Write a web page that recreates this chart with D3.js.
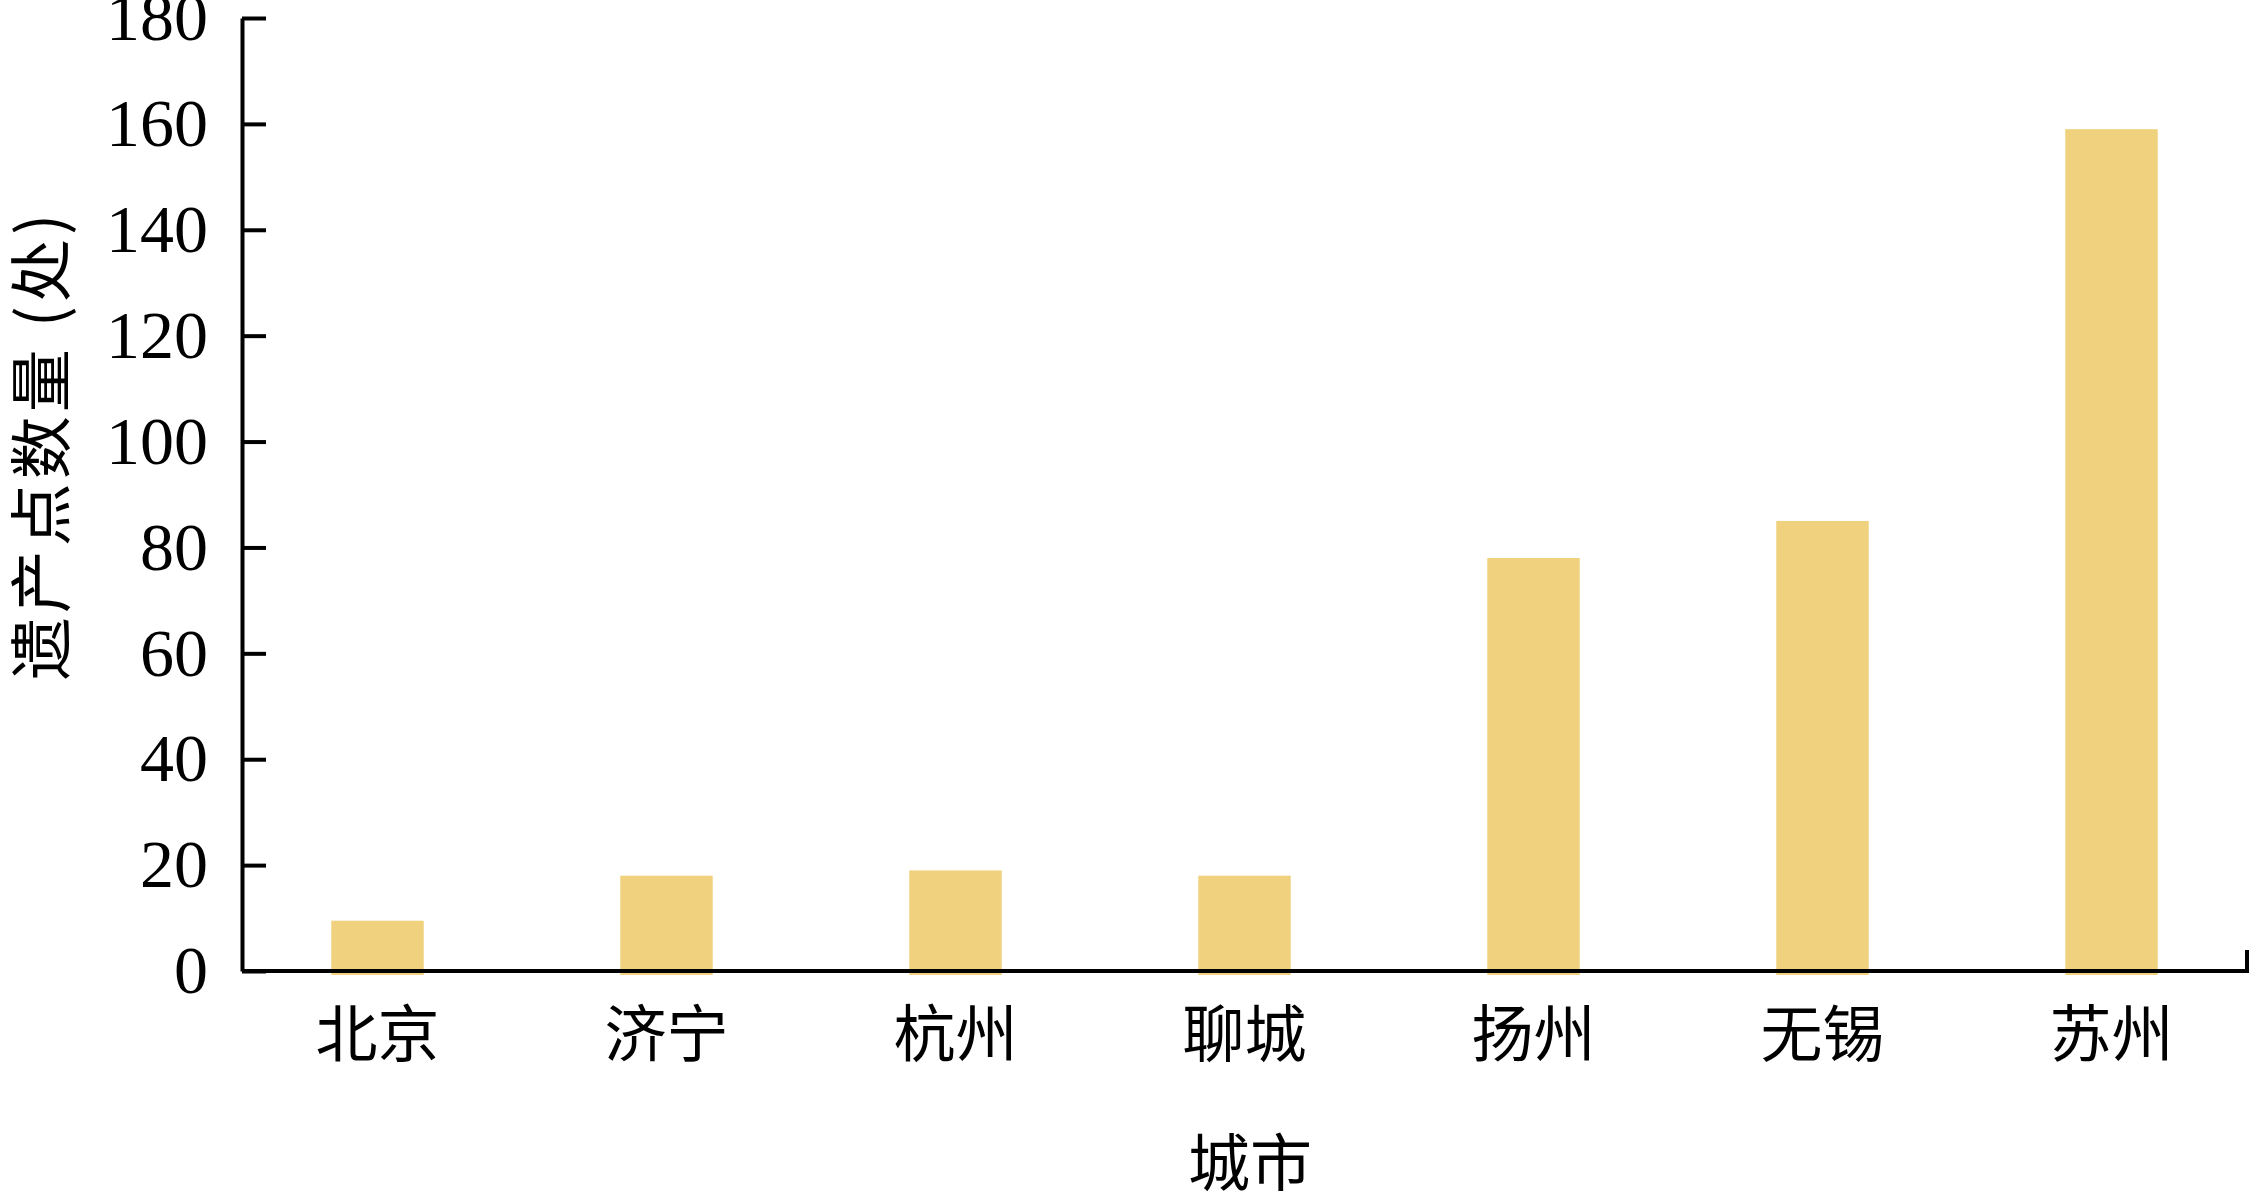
<!DOCTYPE html>
<html>
<head>
<meta charset="utf-8">
<script src="https://cdn.jsdelivr.net/npm/d3@7"></script>
<style>
  body { margin: 0; background: #fff; }
  svg { display: block; }
</style>
</head>
<body>
<div id="chart"></div>
<script>
// data
var cities = ["北京", "济宁", "杭州", "聊城", "扬州", "无锡", "苏州"];
var counts = [9.5, 18, 19, 18, 78, 85, 159];
var yTicks = [0, 20, 40, 60, 80, 100, 120, 140, 160, 180];

var svgWidth = 2250;
var svgHeight = 1192;

// plot box in pixels (window.top is taken, hence the prefix)
var plotLeft = 242, plotRight = 2247, plotTop = 18, plotBottom = 971;

var svg = d3.select("#chart")
  .append("svg").attr("width", svgWidth).attr("height", svgHeight);

var xScale = d3.scaleBand()
  .domain(cities)
  .range([233, 2256])
  .paddingInner(0.68)
  .paddingOuter(0.34);

var yScale = d3.scaleLinear()
  .domain([0, 180])
  .range([plotBottom, plotTop]);

var numFont = "'Liberation Serif', 'Times New Roman', serif";
var cjkFont = "'Noto Sans CJK SC', 'Noto Sans', sans-serif";

// bars
svg.append("g").selectAll("rect")
  .data(counts)
  .enter()
  .append("rect")
  .attr("x", (d, i) => xScale(cities[i]))
  .attr("y", d => yScale(d))
  .attr("width", xScale.bandwidth())
  .attr("height", d => yScale(0) - yScale(d) + 4)
  .attr("fill", "#f0d27e");

// y axis, ticks point inward
var leftAxis = d3.axisLeft(yScale)
  .tickValues(yTicks)
  .tickSizeInner(-24)
  .tickSizeOuter(0)
  .tickPadding(34);

var yAxis = svg.append("g")
  .attr("transform", `translate(${plotLeft}, 0)`)
  .call(leftAxis);

yAxis.selectAll("path, line")
  .attr("stroke", "#000")
  .attr("stroke-width", 4);
yAxis.selectAll("text")
  .attr("font-family", numFont)
  .attr("font-size", 68)
  .attr("fill", "#000");

// x axis labels
var bottomAxis = d3.axisBottom(xScale)
  .tickSize(0)
  .tickPadding(42);

var xAxis = svg.append("g")
  .attr("transform", `translate(0, ${plotBottom})`)
  .call(bottomAxis);

xAxis.select(".domain").remove();
xAxis.selectAll("text")
  .attr("font-family", cjkFont)
  .attr("font-size", 62)
  .attr("fill", "#000");

// x axis line with the small end tick on the right
svg.append("path")
  .attr("d", `M${plotLeft},${plotBottom}H${plotRight}V${plotBottom - 21}`)
  .attr("fill", "none")
  .attr("stroke", "#000")
  .attr("stroke-width", 4);

// axis titles
svg.append("text")
  .attr("x", 1250)
  .attr("y", 1159)
  .attr("text-anchor", "middle")
  .attr("dominant-baseline", "central")
  .attr("font-family", cjkFont)
  .attr("font-size", 62)
  .text("城市");

svg.append("text")
  .attr("transform", "translate(36, 445) rotate(-90)")
  .attr("text-anchor", "middle")
  .attr("dominant-baseline", "central")
  .attr("font-family", cjkFont)
  .attr("font-size", 63)
  .attr("letter-spacing", 4)
  .text("遗产点数量 (处)");
</script>
</body>
</html>
